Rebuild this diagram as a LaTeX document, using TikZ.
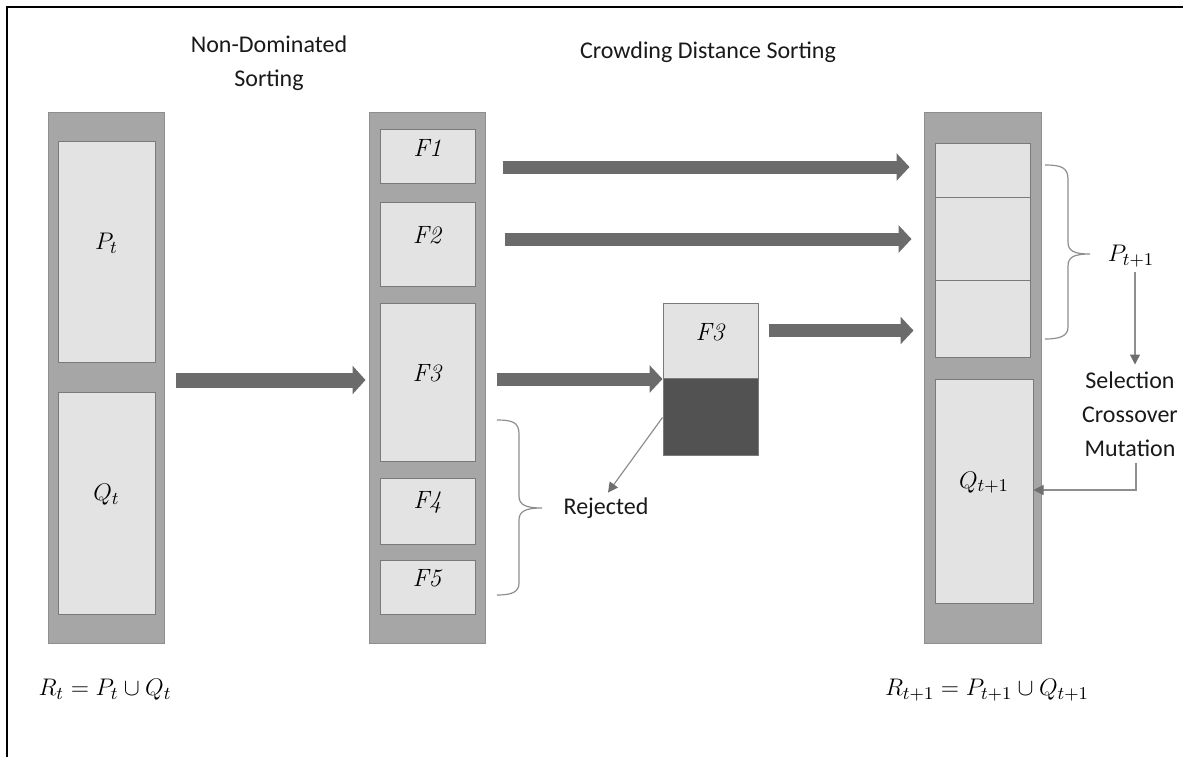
\documentclass[tikz,border=0pt]{standalone}
\usepackage{fontspec}
\setsansfont{Carlito}
\usetikzlibrary{arrows.meta,fit,calc}
\definecolor{colgray}{HTML}{A6A6A6}
\definecolor{coledge}{HTML}{8E8E8E}
\definecolor{cellfill}{HTML}{E3E3E3}
\definecolor{celledge}{HTML}{7A7A7A}
\definecolor{arrowgray}{HTML}{6B6B6B}
\definecolor{darkcell}{HTML}{525252}
\definecolor{thingray}{HTML}{8E8E8E}
\definecolor{tipgray}{HTML}{6E6E6E}
\begin{document}
\begin{tikzpicture}[x=0.5pt,y=-0.5pt,
  column/.style={draw=coledge, fill=colgray, line width=0.5pt, inner sep=0pt},
  cell/.style={draw=celledge, fill=cellfill, line width=0.5pt, inner sep=0pt,
    font=\fontsize{12.5}{14}\selectfont},
  darkbox/.style={draw=celledge, fill=darkcell, line width=0.5pt, inner sep=0pt},
  fat/.style={draw=arrowgray, line width=6.5pt,
    -{Triangle[length=6.5pt,width=13.5pt]}},
  bigfat/.style={draw=arrowgray, line width=7.5pt,
    -{Triangle[length=6.5pt,width=14pt]}},
  thin/.style={draw=thingray, line width=0.6pt},
  thinarrow/.style={thin, -{Triangle[length=5pt,width=5pt,color=tipgray]}},
  label/.style={font=\sffamily\fontsize{12}{17}\selectfont, align=center, text=black!90},
  mathlabel/.style={font=\fontsize{12.5}{14}\selectfont, text=black}]
\useasboundingbox (0,0) rectangle (1183,757);

% frame
\draw[line width=1pt] (7,757) -- (7,7) -- (1183,7);

% titles
\node[label] (nds) at (269,63) {Non-Dominated\\Sorting};
\node[label] (cds) at (708,52) {Crowding Distance Sorting};

% left column: R_t
\node[column, fit={(48,112) (164,643)}] (L) {};
\node[cell, fit={(58,141) (155,362)}] (Pt) {$P_t$};
\node[cell, fit={(58,392) (155,614)}] (Qt) {$Q_t$};

% middle column: fronts
\node[column, fit={(369,112) (485,643)}] (M) {};
\node[cell, fit={(380,129) (475,183)}] (F1) {\textit{F1}};
\node[cell, fit={(380,202) (475,286)}] (F2) {\textit{F2}};
\node[cell, fit={(380,303) (475,461)}] (F3) {\textit{F3}};
\node[cell, fit={(380,478) (475,544)}] (F4) {\textit{F4}};
\node[cell, fit={(380,560) (475,614)}] (F5) {\textit{F5}};

% split front F3
\node[cell, fit={(663,303) (758,378)}] (F3a) {\textit{F3}};
\node[darkbox, fit={(663,378) (758,455)}] (F3b) {};

% right column: R_{t+1}
\node[column, fit={(924,112) (1041,643)}] (R) {};
\node[cell, fit={(935,143) (1030,197)}] (S1) {};
\node[cell, fit={(935,197) (1030,280)}] (S2) {};
\node[cell, fit={(935,280) (1030,357)}] (S3) {};
\node[cell, fit={(935,379) (1033,603)}] (Qn) {$Q_{t+1}$};

% thick arrows
\coordinate (Rin) at ($(R.west)+(-14,0)$);
\coordinate (a0) at ($(L.east)+(11,2.5)$);
\draw[bigfat] (a0) -- (a0 -| {$(M.west)+(-3,0)$});
\coordinate (a1) at ($(F1.east)+(27,11)$);
\draw[fat] (a1) -- (a1 -| Rin);
\coordinate (a2) at ($(F2.east)+(29,-5)$);
\draw[fat] (a2) -- ($(a2 -| Rin)+(2,0)$);
\coordinate (a3) at ($(F3.east)+(21,-3)$);
\draw[fat] (a3) -- (a3 -| F3a.west);
\coordinate (a4) at ($(F3a.east)+(10,-10)$);
\draw[fat] (a4) -- ($(a4 -| Rin)+(4,0)$);

% brace over the rejected fronts
\draw[thin] (497,420) .. controls (512,420) and (519,422) .. (519,434)
  -- (519,496) .. controls (519,505) and (526,508) .. (542,508)
  .. controls (526,508) and (519,511) .. (519,520)
  -- (519,583) .. controls (519,592) and (512,595) .. (497,595);
\node[label] (rej) at (606,508) {Rejected};
\draw[thinarrow] ($(F3b.west)+(0,1)$) -- ($(rej.north)+(2,2)$);

% brace over the new parent population
\draw[thin] (1045,165) .. controls (1060,165) and (1068,167) .. (1068,179)
  -- (1068,242) .. controls (1068,251) and (1074,254) .. (1090,254)
  .. controls (1074,254) and (1068,257) .. (1068,266)
  -- (1068,327) .. controls (1068,336) and (1060,339) .. (1045,339);
\node[mathlabel] (Pn) at (1131,256) {$P_{t+1}$};
\node[label] (ops) at (1130,414) {Selection\\Crossover\\Mutation};
\draw[thinarrow] (1135,272) -- (ops.north -| 1135,0);
\draw[thinarrow] (ops.south -| 1136,0) -- (1136,490) -- (1136,490 -| Qn.east);

% population labels
\node[mathlabel] (Rt) at (105,690) {$R_t = P_t \cup Q_t$};
\node[mathlabel] (Rn) at (987,690) {$R_{t+1} = P_{t+1} \cup Q_{t+1}$};
\end{tikzpicture}
\end{document}
